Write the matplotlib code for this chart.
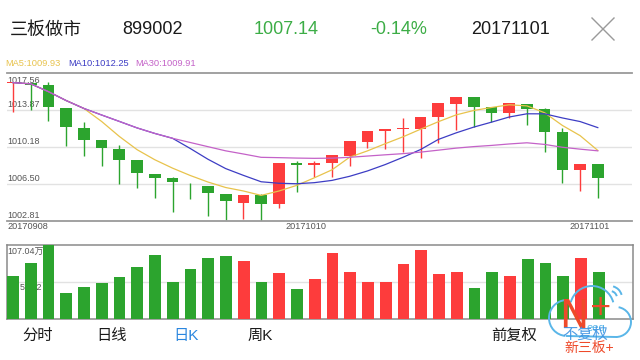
import numpy as np
import pandas as pd
import matplotlib
matplotlib.use("Agg")
import matplotlib.pyplot as plt
from matplotlib.patches import Arc
import matplotlib.transforms as mtransforms

plt.rcParams['font.family'] = ['Liberation Sans', 'Noto Sans CJK SC', 'DejaVu Sans']

# daily candles 20170908 .. 20171101
opens = [1016.60, 1016.60, 1016.36, 1014.10, 1012.11, 1010.85, 1010.02, 1008.89, 1007.46, 1007.13,
         1006.50, 1006.30, 1005.50, 1004.64, 1005.40, 1004.50, 1008.62, 1008.42, 1008.62, 1009.32,
         1010.71, 1011.78, 1011.95, 1011.95, 1013.14, 1014.47, 1015.14, 1014.14, 1013.54, 1014.50,
         1013.94, 1011.71, 1007.86, 1008.46]
highs = [1016.70, 1016.60, 1016.70, 1014.10, 1012.70, 1010.85, 1010.35, 1008.89, 1007.46, 1007.20,
         1006.60, 1006.30, 1005.50, 1005.40, 1005.50, 1008.62, 1008.82, 1008.82, 1009.39, 1010.81,
         1011.75, 1011.98, 1013.05, 1013.20, 1014.54, 1015.14, 1015.14, 1014.14, 1014.60, 1014.50,
         1014.04, 1012.05, 1008.46, 1008.46]
lows = [1013.70, 1013.90, 1012.80, 1010.28, 1009.32, 1008.32, 1006.47, 1006.13, 1005.13, 1003.74,
        1004.96, 1003.31, 1002.90, 1002.98, 1002.81, 1004.13, 1005.73, 1007.23, 1007.16, 1008.29,
        1010.05, 1009.95, 1009.69, 1009.06, 1010.55, 1011.88, 1012.21, 1012.71, 1013.05, 1012.38,
        1009.72, 1006.63, 1005.83, 1005.13]
closes = [1016.60, 1016.36, 1014.14, 1012.15, 1010.88, 1010.12, 1008.89, 1007.56, 1007.13, 1006.70,
          1006.45, 1005.63, 1004.83, 1005.40, 1004.50, 1008.62, 1008.42, 1008.62, 1009.39, 1010.81,
          1011.75, 1011.98, 1012.05, 1013.20, 1014.54, 1015.14, 1014.20, 1013.54, 1014.54, 1014.00,
          1011.71, 1007.89, 1008.46, 1007.14]
# volume in 万
volumes = [62.8, 80.7, 107.04, 37.5, 47.0, 52.7, 60.5, 75.8, 92.6, 53.3,
           72.0, 88.7, 91.2, 83.6, 53.3, 66.3, 44.1, 57.6, 95.1, 68.6,
           53.3, 54.2, 80.1, 99.8, 65.7, 68.6, 44.7, 68.6, 62.4, 86.9,
           81.1, 62.8, 88.7, 67.7]
y_ticks = [1017.56, 1013.87, 1010.18, 1006.50, 1002.81]
date_labels = ['20170908', '20171010', '20171101']
date_pos = [0, 16.55, 32.56]
ma_labels = ['MA5:1009.93', 'MA10:1012.25', 'MA30:1009.91']

RED = '#fd3c3c'
GREEN = '#2ca42e'
df = pd.DataFrame({'open': opens, 'high': highs, 'low': lows, 'close': closes, 'vol': volumes})
x = np.arange(len(df))
ma5 = df['close'].rolling(5, min_periods=1).mean()
ma10 = df['close'].rolling(10, min_periods=1).mean()
ma30 = df['close'].rolling(30, min_periods=1).mean()

fig = plt.figure(figsize=(6.4, 3.6), dpi=100)
fig.patch.set_facecolor('white')
W, H = 640, 360
xlim = (-0.34, 34.93)

# price panel
ax = fig.add_axes([7 / W, (H - 221) / H, 625 / W, 148 / H])
up = df['close'] >= df['open']
cols = [RED if u else GREEN for u in up]
ax.vlines(x, df['low'], df['high'], colors=cols, lw=1, zorder=2)
body_lo = np.minimum(df['open'], df['close'])
body_h = np.maximum(np.abs(df['close'] - df['open']), 0.06)
ax.bar(x, body_h, bottom=body_lo, width=0.66, color=cols, zorder=3)
ax.plot(x, ma5, color='#e8c34c', lw=0.9, zorder=4)
ax.plot(x, ma10, color='#3d3dc4', lw=0.9, zorder=4)
ax.plot(x, ma30, color='#c462c8', lw=0.9, zorder=5)
ax.set_xlim(*xlim)
ax.set_ylim(y_ticks[-1], y_ticks[0])
for v in y_ticks[1:-1]:
    ax.axhline(v, color='#e2e2e2', lw=1, zorder=0)
for s in ['left', 'right']:
    ax.spines[s].set_visible(False)
for s in ['top', 'bottom']:
    ax.spines[s].set_color('#9a9a9a')
    ax.spines[s].set_linewidth(1.3)
ax.set_xticks([])
ax.set_yticks([])
tr = mtransforms.blended_transform_factory(ax.transAxes, ax.transData)
ax.text(0, y_ticks[0] - 0.25, f'{y_ticks[0]:.2f}', transform=tr, ha='left', va='top',
        fontsize=6.5, color='#555555', zorder=1)
for v in y_ticks[1:]:
    ax.text(0, v + 0.1, f'{v:.2f}', transform=tr, ha='left', va='bottom',
            fontsize=6.5, color='#555555', zorder=1)
trx = mtransforms.blended_transform_factory(ax.transData, ax.transAxes)
for p, lab in zip(date_pos, date_labels):
    ax.text(p if p else xlim[0], -0.01, lab, transform=trx, ha='left' if p == 0 else 'center',
            va='top', fontsize=6.6, color='#555555')
for xp, lab, c in zip([5, 68, 135], ma_labels, ['#e8c34c', '#3d3dc4', '#c462c8']):
    fig.text(xp / W, (H - 64) / H, lab, ha='left', va='center', fontsize=6.7, color=c)

# volume panel
axv = fig.add_axes([7 / W, (H - 319) / H, 626 / W, 74 / H])
vcols = [RED if c > o else GREEN for o, c in zip(opens, closes)]
axv.bar(x, df['vol'], width=0.66, color=vcols, zorder=3)
axv.set_xlim(*xlim)
axv.set_ylim(0, max(volumes))
axv.axhline(max(volumes) / 2, color='#e2e2e2', lw=1, zorder=0)
for s in axv.spines.values():
    s.set_color('#8a8a8a')
    s.set_linewidth(1.1)
axv.set_xticks([])
axv.set_yticks([])
axv.text(0, 0.98, f'{max(volumes):.2f}万', transform=axv.transAxes, ha='left', va='top',
         fontsize=6.4, color='#555555', zorder=4)
axv.text(0.02, max(volumes) / 2 - 2, f'{max(volumes) / 2:.2f}', transform=mtransforms.blended_transform_factory(axv.transAxes, axv.transData),
         ha='left', va='top', fontsize=6.4, color='#555555', zorder=1)

# overlay in pixel coordinates for header, tabs and logo
ov = fig.add_axes([0, 0, 1, 1], zorder=10)
ov.set_xlim(0, W)
ov.set_ylim(0, H)
ov.axis('off')
ov.patch.set_alpha(0)
hy = H - 30
ov.text(10, hy, '三板做市', fontsize=13, color='#1a1a1a', va='center', ha='left')
ov.text(122, hy, '899002', fontsize=13, color='#1a1a1a', va='center', ha='left')
ov.text(254, hy, '1007.14', fontsize=13, color='#3cad46', va='center', ha='left')
ov.text(370, hy, '-0.14%', fontsize=13, color='#3cad46', va='center', ha='left')
ov.text(471, hy, '20171101', fontsize=13, color='#1a1a1a', va='center', ha='left')
ov.plot([592, 614], [H - 18, H - 40], color='#9a9a9a', lw=1)
ov.plot([592, 614], [H - 40, H - 18], color='#9a9a9a', lw=1)

ty = H - 336
ov.text(22, ty, '分时', fontsize=11, color='#1a1a1a', va='center', ha='left')
ov.text(96, ty, '日线', fontsize=11, color='#1a1a1a', va='center', ha='left')
ov.text(173, ty, '日K', fontsize=11, color='#2a86de', va='center', ha='left')
ov.text(248, ty, '周K', fontsize=11, color='#1a1a1a', va='center', ha='left')
ov.text(491, ty, '前复权', fontsize=11, color='#1a1a1a', va='center', ha='left')

# watermark logo
blue = '#5ab6e8'
ov.add_patch(Arc((567, 42), 36, 36, theta1=95, theta2=265, color=blue, lw=1.4))
ov.add_patch(Arc((592, 52), 44, 44, theta1=15, theta2=165, color=blue, lw=1.4))
ov.add_patch(Arc((616, 38), 30, 30, theta1=-90, theta2=80, color=blue, lw=1.4))
ov.plot([567, 616], [24, 23], color=blue, lw=1.4)
ov.add_patch(Arc((610, 62), 14, 14, theta1=15, theta2=75, color=blue, lw=1.4))
ov.add_patch(Arc((610, 62), 24, 24, theta1=15, theta2=75, color=blue, lw=1.4))
ov.text(574, 43, 'N', fontsize=28, color='#ee4a2a', ha='center', va='center', family='DejaVu Sans')
ov.text(601, 53, '+', fontsize=20, color='#ee4a2a', ha='center', va='center', family='DejaVu Sans')
ov.text(596, 32, 'eeq', fontsize=8, color=blue, ha='center', va='center')
ov.text(585, 25, '不复权', fontsize=11, color='#3d92e2', ha='center', va='center', alpha=0.9)
ov.text(589, 12, '新三板+', fontsize=10, color='#ee4a2a', ha='center', va='center')

fig.savefig('out.png', dpi=100)
